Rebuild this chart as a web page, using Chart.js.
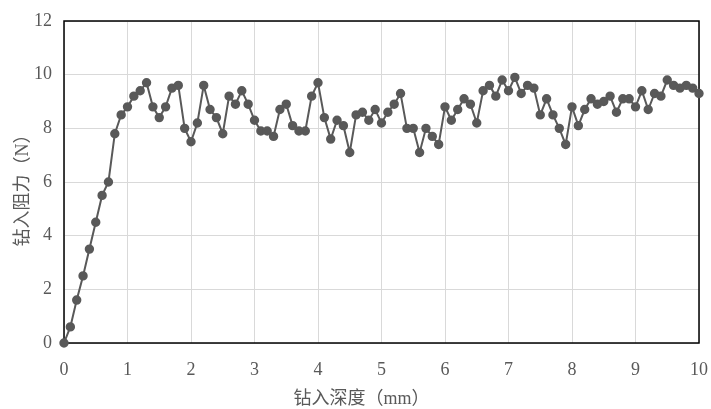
<!DOCTYPE html>
<html>
<head>
<meta charset="utf-8">
<script src="https://cdn.jsdelivr.net/npm/chart.js@4"></script>
<style>
  html, body { margin: 0; padding: 0; background: #fff; }
  #wrap { width: 711px; height: 409px; }
</style>
</head>
<body>
<div id="wrap"><canvas id="chart" width="711" height="409"></canvas></div>
<script>
// 钻入深度 (mm) 与 钻入阻力 (N)
const depth = [];
for (let i = 0; i <= 100; i++) depth.push(i / 10);

const force = [
  0, 0.6, 1.6, 2.5, 3.5, 4.5, 5.5, 6.0, 7.8, 8.5,
  8.8, 9.2, 9.4, 9.7, 8.8, 8.4, 8.8, 9.5, 9.6, 8.0,
  7.5, 8.2, 9.6, 8.7, 8.4, 7.8, 9.2, 8.9, 9.4, 8.9,
  8.3, 7.9, 7.9, 7.7, 8.7, 8.9, 8.1, 7.9, 7.9, 9.2,
  9.7, 8.4, 7.6, 8.3, 8.1, 7.1, 8.5, 8.6, 8.3, 8.7,
  8.2, 8.6, 8.9, 9.3, 8.0, 8.0, 7.1, 8.0, 7.7, 7.4,
  8.8, 8.3, 8.7, 9.1, 8.9, 8.2, 9.4, 9.6, 9.2, 9.8,
  9.4, 9.9, 9.3, 9.6, 9.5, 8.5, 9.1, 8.5, 8.0, 7.4,
  8.8, 8.1, 8.7, 9.1, 8.9, 9.0, 9.2, 8.6, 9.1, 9.1,
  8.8, 9.4, 8.7, 9.3, 9.2, 9.8, 9.6, 9.5, 9.6, 9.5,
  9.3
];

const xTitle = '钻入深度（mm）';
const yTitle = '钻入阻力（N）';

const points = depth.map((d, i) => ({ x: d, y: force[i] }));

const textColor = '#595959';
const fontFamily = '"Liberation Serif", "Noto Sans CJK SC", serif';

// 画外框 + 轴标题 (标题按整张图居中, 跟Excel一样)
const frame = {
  id: 'frame',
  beforeDatasetsDraw(chart) {
    const { ctx, chartArea: a } = chart;
    ctx.save();
    ctx.strokeStyle = '#000';
    ctx.lineWidth = 1.5;
    ctx.strokeRect(a.left, a.top, a.right - a.left, a.bottom - a.top);
    ctx.restore();
  },
  afterDraw(chart) {
    const { ctx, width } = chart;
    ctx.save();
    ctx.fillStyle = textColor;
    ctx.font = '18px ' + fontFamily;
    ctx.textAlign = 'center';
    ctx.textBaseline = 'middle';
    ctx.fillText(xTitle, width / 2 + 6, 399);
    ctx.translate(23, 186);
    ctx.rotate(-Math.PI / 2);
    ctx.fillText(yTitle, 0, 0);
    ctx.restore();
  }
};

new Chart(document.getElementById('chart').getContext('2d'), {
  type: 'line',
  data: {
    datasets: [{
      data: points,
      borderColor: '#595959',
      backgroundColor: '#595959',
      borderWidth: 2,
      pointRadius: 3.7,
      pointHoverRadius: 3.7,
      tension: 0,
      clip: false
    }]
  },
  options: {
    responsive: false,
    animation: false,
    layout: { padding: { left: 0, right: 12, top: 21, bottom: 0 } },
    plugins: { legend: { display: false }, tooltip: { enabled: false } },
    scales: {
      x: {
        type: 'linear',
        min: 0,
        max: 10,
        afterFit: s => { s.height = 66; s.paddingLeft = 0; s.paddingRight = 0; },
        ticks: { stepSize: 1, maxRotation: 0, color: textColor, font: { family: fontFamily, size: 18 }, padding: 16 },
        grid: { color: '#d9d9d9', drawTicks: false },
        border: { display: false }
      },
      y: {
        min: 0,
        max: 12,
        afterFit: s => { s.width = 64; s.paddingTop = 0; s.paddingBottom = 0; },
        ticks: { stepSize: 2, color: textColor, font: { family: fontFamily, size: 18 }, padding: 12 },
        grid: { color: '#d9d9d9', drawTicks: false },
        border: { display: false }
      }
    }
  },
  plugins: [frame]
});
</script>
</body>
</html>
